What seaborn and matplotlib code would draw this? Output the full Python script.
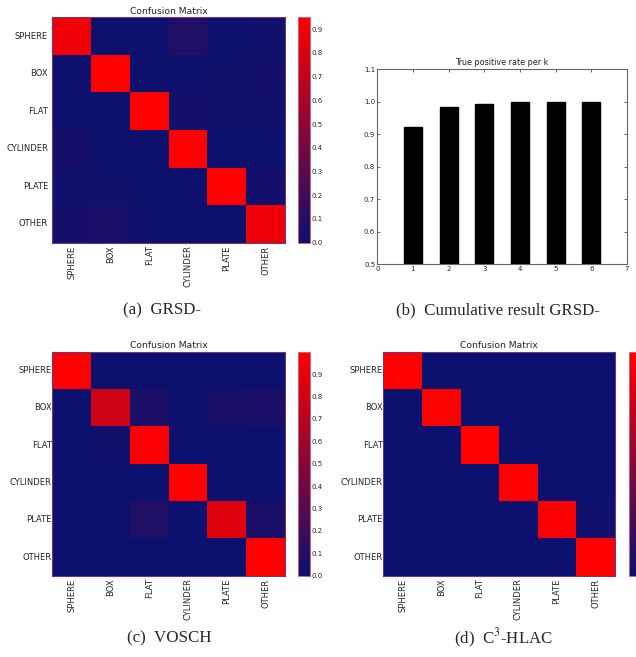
import matplotlib
matplotlib.use("Agg")
import matplotlib.pyplot as plt
import numpy as np
import pandas as pd
import seaborn as sns
from matplotlib.colors import LinearSegmentedColormap

classes = ["SPHERE", "BOX", "FLAT", "CYLINDER", "PLATE", "OTHER"]

# (a) GRSD- confusion matrix
grsd = [
    [0.89, 0.00, 0.00, 0.08, 0.01, 0.02],
    [0.01, 0.95, 0.01, 0.01, 0.02, 0.03],
    [0.01, 0.01, 0.95, 0.03, 0.02, 0.02],
    [0.04, 0.01, 0.01, 0.95, 0.01, 0.01],
    [0.02, 0.02, 0.01, 0.01, 0.95, 0.03],
    [0.04, 0.05, 0.01, 0.01, 0.00, 0.88],
]
# (c) VOSCH
vosch = [
    [1.00, 0.00, 0.00, 0.00, 0.00, 0.00],
    [0.00, 0.80, 0.07, 0.00, 0.06, 0.07],
    [0.00, 0.02, 0.98, 0.00, 0.00, 0.00],
    [0.00, 0.00, 0.00, 1.00, 0.00, 0.00],
    [0.00, 0.00, 0.08, 0.00, 0.86, 0.06],
    [0.00, 0.00, 0.00, 0.00, 0.00, 1.00],
]
# (d) C3-HLAC
c3hlac = [
    [1.00, 0.00, 0.00, 0.00, 0.00, 0.00],
    [0.00, 1.00, 0.00, 0.00, 0.00, 0.00],
    [0.00, 0.00, 1.00, 0.00, 0.00, 0.00],
    [0.00, 0.00, 0.00, 1.00, 0.00, 0.00],
    [0.00, 0.00, 0.00, 0.00, 0.98, 0.02],
    [0.00, 0.00, 0.00, 0.00, 0.00, 1.00],
]

# (b) cumulative true positive rate per k
k_values = [1, 2, 3, 4, 5, 6]
tpr = [0.921, 0.984, 0.994, 0.999, 1.000, 1.000]

cbar_ticks = [0.0, 0.1, 0.2, 0.3, 0.4, 0.5, 0.6, 0.7, 0.8, 0.9]

sns.set_style("white")
plt.rcParams["mathtext.fontset"] = "stix"

cmap = LinearSegmentedColormap.from_list("bluered", ["#0c106e", "#ff0000"])
edge = "#6a3a7a"

fig = plt.figure(figsize=(6.36, 6.57), dpi=100)


def conf_matrix(values, pos, cpos, vmax, ypad, cbar_labels=True):
    ax = fig.add_axes(pos)
    cax = fig.add_axes(cpos)
    df = pd.DataFrame(values, index=classes, columns=classes)
    sns.heatmap(df, ax=ax, cbar_ax=cax, cmap=cmap, vmin=0, vmax=vmax,
                linewidths=0, cbar_kws={"ticks": cbar_ticks, "format": "%.1f"})
    ax.set_title("Confusion Matrix", fontsize=6.6, pad=2.5, color="#222222")
    ax.set_xticklabels(classes, rotation=90, fontsize=6)
    ax.set_yticklabels(classes, rotation=0, fontsize=6)
    ax.tick_params(axis="x", length=0, pad=2)
    ax.tick_params(axis="y", length=0, pad=ypad)
    for s in ax.spines.values():
        s.set_visible(True)
        s.set_color(edge)
        s.set_linewidth(0.8)
    cax.tick_params(labelsize=5, length=2, width=0.5, direction="in", pad=1)
    if not cbar_labels:
        # this colorbar is clipped by the right edge of the page
        cax.set_yticks([])
    for s in cax.spines.values():
        s.set_visible(True)
        s.set_color("#d06080")
        s.set_linewidth(0.6)
    return ax


conf_matrix(grsd, [0.0822, 0.6306, 0.3659, 0.3431], [0.4693, 0.6306, 0.0184, 0.3431], 0.95, 3)
conf_matrix(vosch, [0.0822, 0.1237, 0.3659, 0.3409], [0.4693, 0.1237, 0.0184, 0.3409], 1.0, 0.5)
conf_matrix(c3hlac, [0.6027, 0.1237, 0.3643, 0.3409], [0.9895, 0.1237, 0.0184, 0.3409], 1.0, 0.5,
            cbar_labels=False)

# bar chart
axb = fig.add_axes([0.5932, 0.5977, 0.3926, 0.2968])
bar_df = pd.DataFrame({"k": k_values, "tpr": tpr})
sns.barplot(data=bar_df, x="k", y="tpr", ax=axb, native_scale=True, width=0.5,
            color="black", edgecolor="black", saturation=1, errorbar=None)
axb.set_xlim(0, 7)
axb.set_ylim(0.5, 1.1)
axb.set_xticks(range(0, 8))
axb.set_xticklabels([str(i) for i in range(0, 8)])
axb.set_yticks([0.5, 0.6, 0.7, 0.8, 0.9, 1.0, 1.1])
axb.set_yticklabels(["0.5", "0.6", "0.7", "0.8", "0.9", "1.0", "1.1"])
axb.set_xlabel("")
axb.set_ylabel("")
axb.set_title("True positive rate per k", fontsize=5.8, pad=3, color="#222222")
axb.tick_params(labelsize=5, direction="in", length=2.5, width=0.5,
                top=True, right=True, bottom=True, left=True, pad=1.5)
for s in axb.spines.values():
    s.set_visible(True)
    s.set_color("#666666")
    s.set_linewidth(0.8)

# captions
cap = dict(fontsize=12.2, family="Liberation Serif", ha="center", va="center")
fig.text(162 / 636, 1 - 310 / 657, "(a)  GRSD-", **cap)
fig.text(498 / 636, 1 - 310 / 657, "(b)  Cumulative result GRSD-", **cap)
fig.text(169 / 636, 1 - 638 / 657, "(c)  VOSCH", **cap)
fig.text(504 / 636, 1 - 638 / 657, "(d)  C$^3$-HLAC", **cap)

fig.savefig("out.png", dpi=100)
